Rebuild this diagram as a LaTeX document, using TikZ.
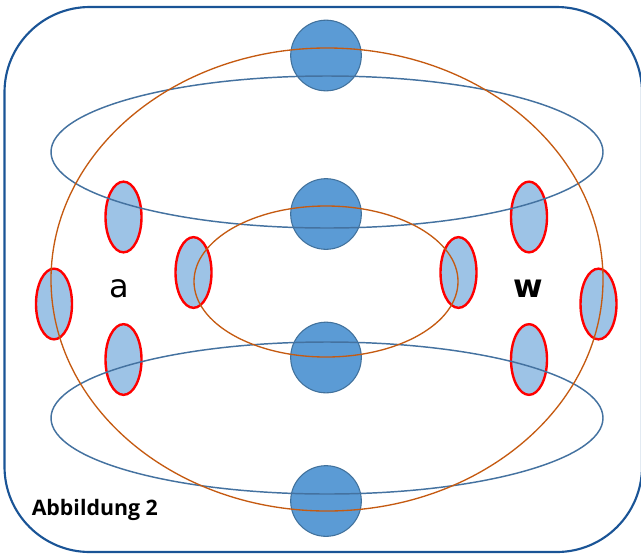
\documentclass[tikz,border=0pt]{standalone}
\usepackage{fontspec}
\setmainfont{DejaVu Sans}
\newfontfamily\capfont{Open Sans}
\usetikzlibrary{shapes.geometric}
\definecolor{rimblue}{RGB}{26,84,150}
\definecolor{ballfill}{RGB}{91,155,213}
\definecolor{ballline}{RGB}{65,113,156}
\definecolor{ringblue}{RGB}{68,114,160}
\definecolor{orbitorange}{RGB}{197,90,17}
\definecolor{spotfill}{RGB}{157,195,230}
\begin{document}
\begin{tikzpicture}[x=0.75pt,y=-0.75pt]
		\tikzstyle{ball} = [circle,draw=ballline,fill=ballfill,line width=0.8pt,minimum size=53pt,inner sep=0pt]
		\tikzstyle{spot} = [ellipse,draw=red,fill=spotfill,line width=1.8pt,minimum width=27pt,minimum height=53pt,inner sep=0pt]
		\tikzstyle{ring} = [draw=ringblue,line width=1.1pt]
		\tikzstyle{orbit} = [draw=orbitorange,line width=1pt]
		\tikzstyle{letter} = [font=\fontsize{24}{28}\selectfont,anchor=base]
		\useasboundingbox (0,0) rectangle (641,554);
		\draw[rimblue,line width=1.6pt,rounded corners=64pt] (4.5,7) rectangle (642,552);
		\node[ball] (b1) at (326,55.5) {};
		\node[ball] (b2) at (326,214) {};
		\node[ball] (b3) at (326,357.5) {};
		\node[ball] (b4) at (326,501) {};
		\node[spot] (l1) at (123.5,217) {};
		\node[spot] (l2) at (193.5,272.5) {};
		\node[spot] (l3) at (54,304) {};
		\node[spot] (l4) at (123.5,359.5) {};
		\node[spot] (r1) at (529,217) {};
		\node[spot] (r2) at (458.5,272.5) {};
		\node[spot] (r3) at (598.5,304) {};
		\node[spot] (r4) at (529,359.5) {};
		\draw[ring] (327,152) ellipse [x radius=276, y radius=76];
		\draw[ring] (327,418) ellipse [x radius=276, y radius=76];
		\draw[orbit] (327,279.5) ellipse [x radius=276, y radius=231.5];
		\draw[orbit] (326,281.5) ellipse [x radius=132, y radius=75.5];
		\node[letter] (ta) at (119,297.5) {a};
		\node[letter] (tw) at (528,297.5) {\bfseries w};
		\node[anchor=base west,inner sep=0pt,font=\capfont\bfseries\fontsize{16}{19}\selectfont] (cap) at (31.5,515.7) {Abbildung 2};
	\end{tikzpicture}
\end{document}
